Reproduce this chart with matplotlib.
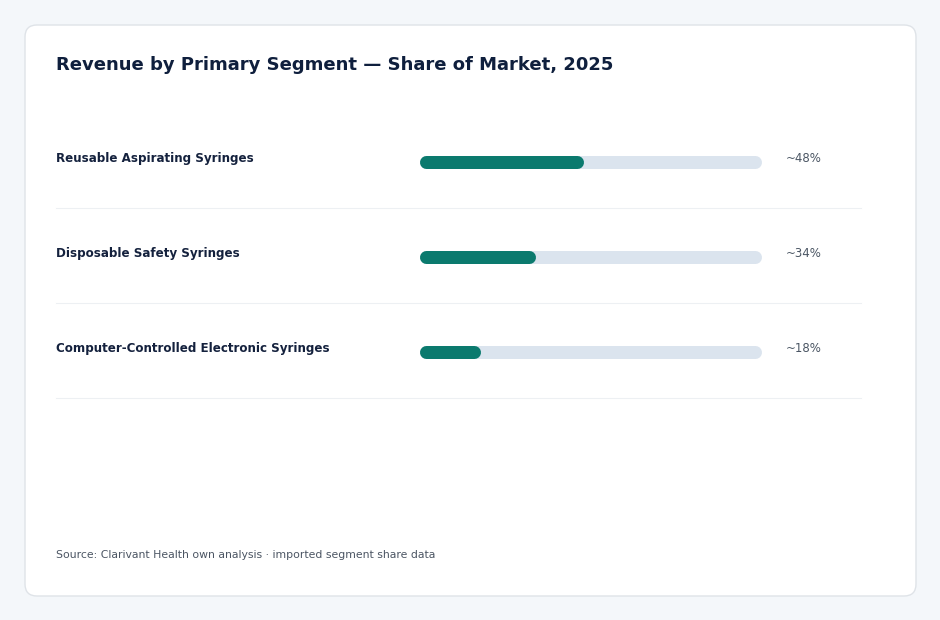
import numpy as np
import matplotlib.pyplot as plt
from matplotlib.patches import FancyBboxPatch
import matplotlib.transforms as mtransforms

# data
segments = [
    "Reusable Aspirating Syringes",
    "Disposable Safety Syringes",
    "Computer-Controlled Electronic Syringes",
]
shares = [48, 34, 18]
share_labels = ["~48%", "~34%", "~18%"]

W, H = 940, 620
fig = plt.figure(figsize=(W / 100, H / 100), dpi=100)
fig.patch.set_facecolor("#f4f7fa")

# background axes in pixel units for the card and free text
bg = fig.add_axes([0, 0, 1, 1])
bg.set_xlim(0, W)
bg.set_ylim(H, 0)
bg.axis("off")

card = FancyBboxPatch((25, 25), 891, 571, boxstyle="round,pad=0,rounding_size=12",
                      facecolor="white", edgecolor="#dfe3e8", linewidth=1)
bg.add_patch(card)

bg.text(56, 65.5, "Revenue by Primary Segment \u2014 Share of Market, 2025",
        fontsize=13, fontweight="bold", color="#0f1f3d", va="center", ha="left")
bg.text(56, 555, "Source: Clarivant Health own analysis \u00b7 imported segment share data",
        fontsize=7.85, color="#4b5563", va="center", ha="left")

# bar axes: 0..100 share spans the whole track, rows are one unit tall
bar_h = 13
x0, x1 = 419.5, 761
row_top, row_h = 114.5, 95
n = len(segments)
ax = fig.add_axes([x0 / W, 1 - (row_top + n * row_h) / H, (x1 - x0) / W, n * row_h / H])
ax.set_xlim(0, 100)
ax.set_ylim(n - 0.5, -0.5)
ax.axis("off")

lw = bar_h * 72 / 100
cap = (bar_h / 2) / ((x1 - x0) / 100)  # round cap length in data units
blend = mtransforms.blended_transform_factory(bg.transData, ax.transData)

for i, (seg, val, lab) in enumerate(zip(segments, shares, share_labels)):
    ax.plot([cap, 100 - cap], [i, i], color="#dbe4ee", lw=lw,
            solid_capstyle="round", clip_on=False)
    ax.plot([cap, val - cap], [i, i], color="#0b7a6e", lw=lw,
            solid_capstyle="round", clip_on=False)
    ax.text(56, i - 0.035, seg, transform=blend, fontsize=8.6, fontweight="bold",
            color="#14213d", va="center", ha="left")
    ax.text(786, i - 0.035, lab, transform=blend, fontsize=8.5, color="#4a5563",
            va="center", ha="left")
    ax.plot([56, 861], [i + 0.485, i + 0.485], transform=blend, color="#edf0f3",
            lw=0.8, clip_on=False)

fig.savefig("out.png", dpi=100, facecolor=fig.get_facecolor())
